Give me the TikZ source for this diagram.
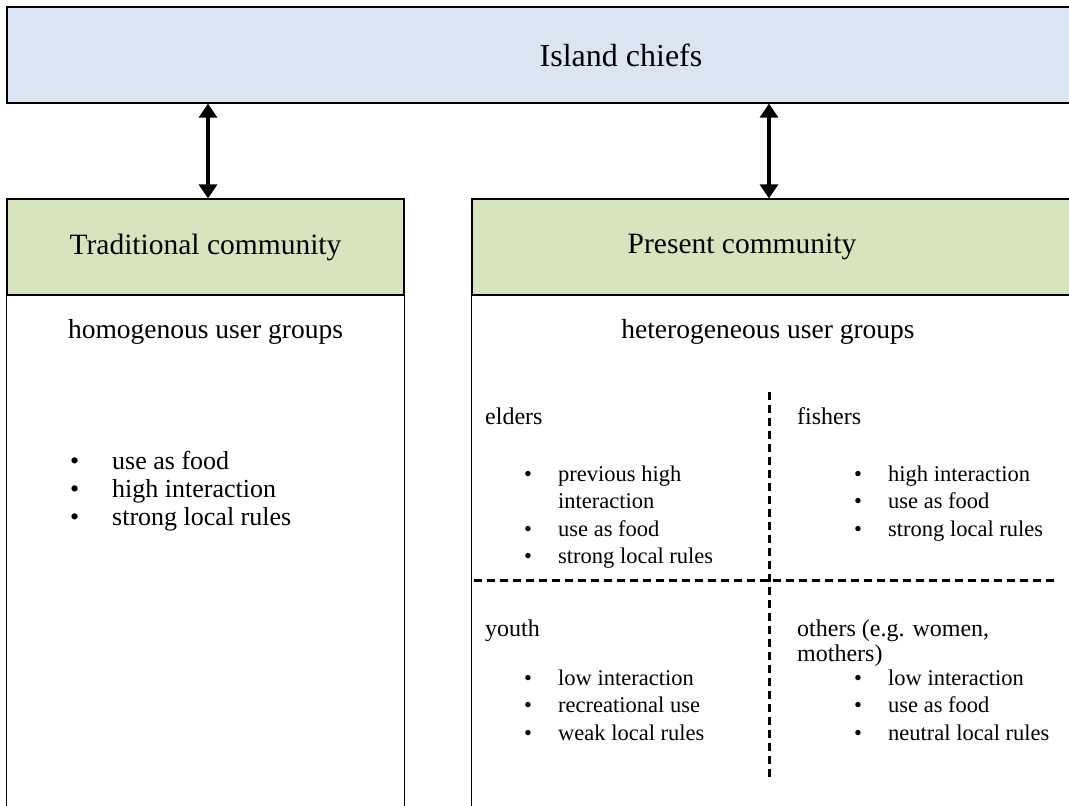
\documentclass[tikz,border=0pt]{standalone}
\usepackage{fontspec}
\setmainfont{Liberation Serif}
\usetikzlibrary{arrows.meta,positioning}
\definecolor{myblue}{RGB}{219,229,241}
\definecolor{mygreen}{RGB}{215,228,189}
\newcommand{\chiefsize}{\fontsize{32}{36}\selectfont}
\newcommand{\headsize}{\fontsize{29.5}{34}\selectfont}
\newcommand{\bodysize}{\fontsize{27.5}{32}\selectfont}
\newcommand{\listsize}{\fontsize{26}{28}\selectfont}
\newcommand{\quadsize}{\fontsize{24}{25}\selectfont}
\newcommand{\itemsize}{\fontsize{22.5}{27.5}\selectfont}
\newcommand{\heightbox}{96pt}
\newcommand{\widthbullet}{34pt}
\tikzset{
    common/.style={draw, line width=1.2pt, rectangle, minimum height=\heightbox, inner sep=0pt},
    chiefbox/.style={common, fill=myblue, font=\chiefsize},
    headbox/.style={common, fill=mygreen, font=\headsize},
    bodyline/.style={draw, line width=1.2pt},
    caption/.style={font=\bodysize, inner sep=0pt},
    grouplabel/.style={font=\quadsize, anchor=base west, inner sep=0pt},
    itemlist/.style={anchor=base west, inner sep=0pt},
    link/.style={{Triangle[width=18pt,length=14pt]}-{Triangle[width=18pt,length=14pt]}, line width=3.2pt},
    split/.style={line width=3pt, dash pattern=on 8pt off 5pt}
}

\begin{document}
\begin{tikzpicture}[x=1pt, y=-1pt]
    \useasboundingbox (0,0) rectangle (1069,806);

    \node[chiefbox, minimum width=1228pt] (chiefs) at (621,55) {Island chiefs};
    \node[headbox, minimum width=397pt] (trad) at (205.5,247) {Traditional community};
    \node[headbox, minimum width=620pt] (present) at (782,247) {};
    \node[font=\headsize, inner sep=0pt] (presenttext) at (742,247) {Present community};

    \draw[bodyline] (trad.south west) -- ++(0,540) (trad.south east) -- ++(0,540);
    \draw[bodyline] (present.south west) -- ++(0,540);

    \coordinate (leftlink) at (208,0);
    \coordinate (rightlink) at (769,0);
    \draw[link] (chiefs.south -| leftlink) -- (trad.north -| leftlink);
    \draw[link] (chiefs.south -| rightlink) -- (present.north -| rightlink);

    \node[caption] (homog) at (205.5,332) {homogenous user groups};
    \node[caption] (heterog) at (768,332) {heterogeneous user groups};

    \node[itemlist, font=\listsize] (tradlist) at (70,469) {\begin{tabular}[t]{@{}p{42pt}@{}l@{}}
        \textbullet & use as food\\
        \textbullet & high interaction\\
        \textbullet & strong local rules
    \end{tabular}};

    \coordinate (splittop) at (769,392);
    \coordinate (splitbottom) at (769,780);
    \coordinate (splitleft) at (474,580);
    \coordinate (splitright) at (1056,580);
    \draw[split] (splittop) -- (splitbottom);
    \draw[split] (splitleft) -- (splitright);

    \node[grouplabel] (elders) at (485,424) {elders};
    \node[grouplabel] (fishers) at (797,424) {fishers};
    \node[grouplabel] (youth) at (485,636) {youth};
    \node[grouplabel] (others) at (797,636) {\begin{tabular}[t]{@{}l@{}}others (e.g. women,\\mothers)\end{tabular}};

    \node[itemlist, font=\itemsize] (elderlist) at (524,481) {\begin{tabular}[t]{@{}p{\widthbullet}@{}l@{}}
        \textbullet & previous high\\
                    & interaction\\
        \textbullet & use as food\\
        \textbullet & strong local rules
    \end{tabular}};
    \node[itemlist, font=\itemsize] (fisherlist) at (854,481) {\begin{tabular}[t]{@{}p{\widthbullet}@{}l@{}}
        \textbullet & high interaction\\
        \textbullet & use as food\\
        \textbullet & strong local rules
    \end{tabular}};
    \node[itemlist, font=\itemsize] (youthlist) at (524,685) {\begin{tabular}[t]{@{}p{\widthbullet}@{}l@{}}
        \textbullet & low interaction\\
        \textbullet & recreational use\\
        \textbullet & weak local rules
    \end{tabular}};
    \node[itemlist, font=\itemsize] (otherlist) at (854,685) {\begin{tabular}[t]{@{}p{\widthbullet}@{}l@{}}
        \textbullet & low interaction\\
        \textbullet & use as food\\
        \textbullet & neutral local rules
    \end{tabular}};
\end{tikzpicture}
\end{document}
